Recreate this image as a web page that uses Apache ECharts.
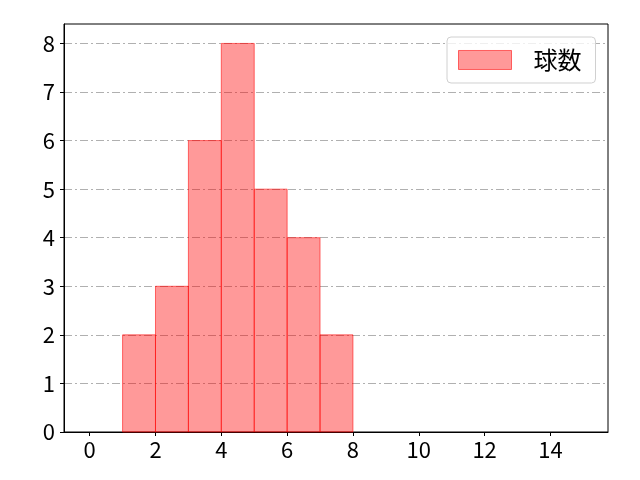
<!DOCTYPE html>
<html>
<head>
<meta charset="utf-8">
<script src="https://cdn.jsdelivr.net/npm/echarts@6/dist/echarts.min.js"></script>
<style>html,body{margin:0;padding:0;background:#fff}#c{width:640px;height:480px}</style>
</head>
<body>
<div id="c"></div>
<script>
const seriesName = '球数';
const binStarts = [1, 2, 3, 4, 5, 6, 7];
const binEnds   = [2, 3, 4, 5, 6, 7, 8];
const counts    = [2, 3, 6, 8, 5, 4, 2];
const xTicks = [0, 2, 4, 6, 8, 10, 12, 14];
const yTicks = [0, 1, 2, 3, 4, 5, 6, 7, 8];

const data = binStarts.map((s, i) => [s, binEnds[i], counts[i]]);
const FONT = '"Noto Sans CJK JP", "Noto Sans", sans-serif';
const fill = 'rgba(255,0,0,0.4)';
const edge = 'rgba(255,0,0,0.55)';

const chart = echarts.init(document.getElementById('c'), null, {renderer: 'canvas'});
chart.setOption({
  animation: false,
  backgroundColor: '#fff',
  grid: {left: 64, right: 32, top: 24, bottom: 48, show: true, borderColor: '#000', borderWidth: 1, backgroundColor: 'transparent'},
  legend: {
    left: 447, top: 37,
    padding: [11, 14, 11, 11],
    borderColor: '#d0d0d0', borderWidth: 1, borderRadius: 4,
    backgroundColor: 'rgba(255,255,255,0.8)',
    itemWidth: 53, itemHeight: 19,
    textStyle: {fontFamily: FONT, fontSize: 24, color: '#000', padding: [0, 0, 0, 17]},
    data: [{name: seriesName, icon: 'rect', itemStyle: {color: fill, borderColor: edge, borderWidth: 1}}]
  },
  xAxis: {
    type: 'value', min: -0.78, max: 15.75,
    axisLine: {show: true, onZero: false, lineStyle: {color: '#000', width: 1}},
    axisTick: {show: true, length: 4, lineStyle: {color: '#000'}, customValues: xTicks},
    axisLabel: {fontFamily: FONT, fontSize: 22, color: '#000', margin: 7, customValues: xTicks},
    splitLine: {show: false}
  },
  yAxis: {
    type: 'value', min: 0, max: 8.4,
    axisLine: {show: true, onZero: false, lineStyle: {color: '#000', width: 1}},
    axisTick: {show: true, length: 4, lineStyle: {color: '#000'}, customValues: yTicks},
    axisLabel: {fontFamily: FONT, fontSize: 22, color: '#000', margin: 9, customValues: yTicks},
    splitLine: {show: true, lineStyle: {color: '#b0b0b0', width: 1, type: [8, 3, 2, 3]}}
  },
  series: [{
    name: seriesName,
    type: 'custom',
    itemStyle: {color: fill, borderColor: edge, borderWidth: 1},
    encode: {x: [0, 1], y: 2},
    data: data,
    renderItem: function (params, api) {
      const p0 = api.coord([api.value(0), 0]);
      const p1 = api.coord([api.value(1), api.value(2)]);
      return {
        type: 'rect',
        shape: {x: p0[0], y: p1[1], width: p1[0] - p0[0], height: p0[1] - p1[1]},
        style: {fill: fill, stroke: edge, lineWidth: 1}
      };
    }
  }]
});
</script>
</body>
</html>
